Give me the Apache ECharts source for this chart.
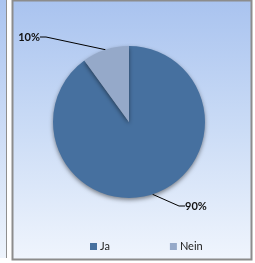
<!DOCTYPE html>
<html><head><meta charset="utf-8">
<script src="https://cdn.jsdelivr.net/npm/echarts@6/dist/echarts.min.js"></script>
<style>html,body{margin:0;padding:0;background:#fff}#c{width:255px;height:263px}</style>
</head><body><div id="c"></div>
<script>
const categories = ['Ja', 'Nein'];
const values = [90, 10];
const labels = ['90%', '10%'];
const colors = ['#46709f', '#95a9c9'];

const chart = echarts.init(document.getElementById('c'), null, {renderer: 'canvas'});
const data = categories.map((c, i) => ({name: c, value: values[i], itemStyle: {color: colors[i]}}));
chart.setOption({
  animation: false,
  graphic: [
    {type: 'rect', shape: {x: 0, y: 0, width: 6, height: 258}, style: {fill: new echarts.graphic.LinearGradient(0,0,0,1,[{offset:0,color:'#aac4f0'},{offset:1,color:'#eef4fc'}])}, z: -10},
    {type: 'line', shape: {x1: 6.5, y1: 0, x2: 6.5, y2: 258}, style: {stroke: '#8f8f8f', lineWidth: 1}, z: -9},
    {type: 'rect', shape: {x: 12.5, y: 0.5, width: 239, height: 259}, style: {stroke: '#8c8c8c', lineWidth: 2, fill: new echarts.graphic.LinearGradient(0,0,0,1,[{offset:0,color:'#a9c3ef'},{offset:0.5,color:'#cbdcf6'},{offset:1,color:'#f0f5fd'}])}, z: -10}
  ],
  legend: {
    left: 85, top: 236, itemWidth: 7, itemHeight: 7, itemGap: 60, icon: 'rect',
    textStyle: {fontFamily: 'Lato', fontSize: 11, color: '#222', padding: [0, 0, 0, -2]},
    data: categories
  },
  series: [{
    type: 'pie',
    center: [129, 122],
    radius: 76,
    startAngle: 90,
    clockwise: true,
    data: data,
    itemStyle: {shadowBlur: 4, shadowOffsetY: 2, shadowColor: 'rgba(0,0,0,0.45)'},
    label: {
      show: true,
      formatter: p => labels[p.dataIndex],
      fontFamily: 'Lato', fontWeight: 'bold', fontSize: 11, color: '#111'
    },
    labelLine: {show: true, length: 12, length2: 6, lineStyle: {color: '#000', width: 1}},
    labelLayout: function (p) {
      if (p.dataIndex === 1) return {x: 40, y: 37, align: 'right', verticalAlign: 'middle'};
      return {x: 185, y: 206, align: 'left', verticalAlign: 'middle'};
    },
    emphasis: {disabled: true}
  }]
});
</script></body></html>
